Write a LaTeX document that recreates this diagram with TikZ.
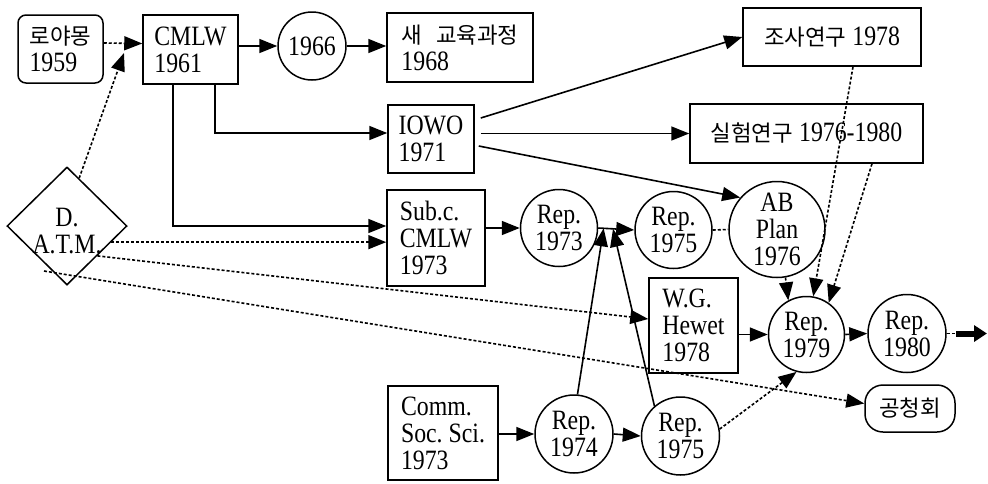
\documentclass[tikz,border=0pt]{standalone}
\usepackage{fontspec}
\setmainfont[FakeStretch=0.85]{Liberation Serif}
\newfontfamily\kr[Scale=0.8]{Noto Sans CJK KR}
\usetikzlibrary{arrows.meta,shapes.geometric,calc}
\begin{document}
\begin{tikzpicture}[x=1pt,y=-1pt,
  every node/.style={font=\fontsize{28}{27}\selectfont},
  box/.style={draw,line width=1.5pt,inner sep=4pt,align=left},
  rbox/.style={box,rounded corners=8pt},
  circ/.style={draw,circle,line width=1.5pt,inner sep=0pt,align=center},
  con/.style={line width=1.6pt,-{Triangle[length=18pt,width=14pt]}},
  dsh/.style={con,dash pattern=on 3pt off 2pt},
  dshplain/.style={line width=1.6pt,dash pattern=on 3pt off 2pt},
]
\useasboundingbox (0,0) rectangle (988,483);

% nodes
\node[rbox,minimum width=85pt,minimum height=68pt] (lya) at (60.5,49) {{\kr 로야몽}\\1959};
\node[box,minimum width=95pt,minimum height=69pt] (cmlw) at (190.5,49.5) {CMLW\\1961};
\node[circ,minimum size=68pt] (c1966) at (312,46) {1966};
\node[box,minimum width=146pt,minimum height=69pt] (new) at (460,47.5) {{\kr 새\hspace{14pt}교육과정}\\1968};
\node[box,minimum width=86pt,minimum height=68pt] (iowo) at (431,139) {IOWO\\1971};
\node[box,minimum width=98pt,minimum height=96pt] (subc) at (436,238) {Sub.c.\\CMLW\\1973};
\node[box,minimum width=178pt,minimum height=58pt] (josa) at (832,37) {{\kr 조사연구} 1978};
\node[box,minimum width=233pt,minimum height=59pt] (silh) at (806.5,133.5) {{\kr 실험연구} 1976-1980};
\node[draw,diamond,line width=1.5pt,minimum width=120pt,minimum height=118pt,inner sep=0pt] (datm) at (67,226) {};
\node[align=center] (datmt) at (67,231) {D.\\A.T.M.};
\node[circ,minimum size=77pt] (r73) at (559,228) {Rep.\\1973};
\node[circ,minimum size=77pt] (r75a) at (673.5,230) {Rep.\\1975};
\node[circ,minimum size=96pt] (ab) at (777,229.5) {AB\\Plan\\1976};
\node[box,minimum width=89pt,minimum height=95pt] (wg) at (693.5,325.5) {W.G.\\Hewet\\1978};
\node[circ,minimum size=76pt] (r79) at (806.5,334.5) {Rep.\\1979};
\node[circ,minimum size=78pt] (r80) at (907,333.5) {Rep.\\1980};
\node[draw,line width=1.5pt,rounded corners=18pt,minimum width=90pt,minimum height=47pt,inner sep=2pt] (gong) at (910,408.5) {\kr 공청회};
\node[box,minimum width=110pt,minimum height=94pt] (comm) at (443,433) {Comm.\\Soc.\ Sci.\\1973};
\node[circ,minimum size=78pt] (r74) at (574,434) {Rep.\\1974};
\node[circ,minimum size=78pt] (r75b) at (680.5,436) {Rep.\\1975};

% connectors
\draw[dsh] ([yshift=6pt]lya.east) -- ([yshift=6pt]cmlw.west);
\coordinate (a1) at (124,53);
\draw[dsh] ($(datm.north)!0.2!(datm.east)$) -- (a1);
\draw[con] (cmlw.east |- c1966.west) -- (c1966.west);
\draw[con] (c1966.east) -- (c1966.east -| new.west);
\draw[con] ([xshift=24.5pt]cmlw.south) |- ([yshift=6pt]iowo.west);
\draw[con] ([xshift=-17.5pt]cmlw.south) |- ([yshift=12pt]subc.west);

\coordinate (d1) at ($(datm.east)!0.27!(datm.south)$);
\draw[dsh] (d1) -- (d1 -| subc.west);
\draw[dsh] ($(datm.east)!0.5!(datm.south)$) -- ([yshift=6.5pt]wg.west);
\coordinate (d3) at (44,271);
\draw[dsh] (d3) -- ([yshift=5pt]gong.west);

\draw[con] ([shift={(6pt,21pt)}]iowo.east) -- (josa.west);
\draw[con] ([shift={(6pt,5.5pt)}]iowo.east) -- (silh.west);
\draw[con] ([shift={(4pt,-7pt)}]iowo.east) -- (ab.139);

\draw[con] (subc.east |- r73.west) -- (r73.west);
\draw[con] (r73.east) -- (r75a.west);
\draw[dshplain] (r75a.east) -- (ab.west);
\coordinate (m1) at ($(r73.east)!0.15!(r75a.west)$);
\coordinate (m2) at ($(r73.east)!0.41!(r75a.west)$);
\draw[con] (r74.85) -- (m1);
\draw[con] (r75b.131) -- (m2);
\draw[con] (comm.east |- r74.west) -- (r74.west);
\draw[con] (r74.east) -- (r75b.west);
\draw[dsh] (r75b.10) -- (r79.255);
\draw[con] (wg.east |- r79.west) -- (r79.west);
\draw[dsh] (ab.-80) -- (r79.118);
\draw[dsh] ([xshift=21pt]josa.south) -- (r79.80);
\draw[dsh] ([xshift=65.5pt]silh.south) -- (r79.55);
\draw[con] (r79.east) -- (r80.west);
\coordinate (o1) at (956,333.5);
\coordinate (o2) at (987,333.5);
\draw[dshplain] (r80.east) -- (o1);
\draw[line width=6pt,-{Triangle[length=13pt,width=16pt]}] (o1) -- (o2);
\end{tikzpicture}
\end{document}
